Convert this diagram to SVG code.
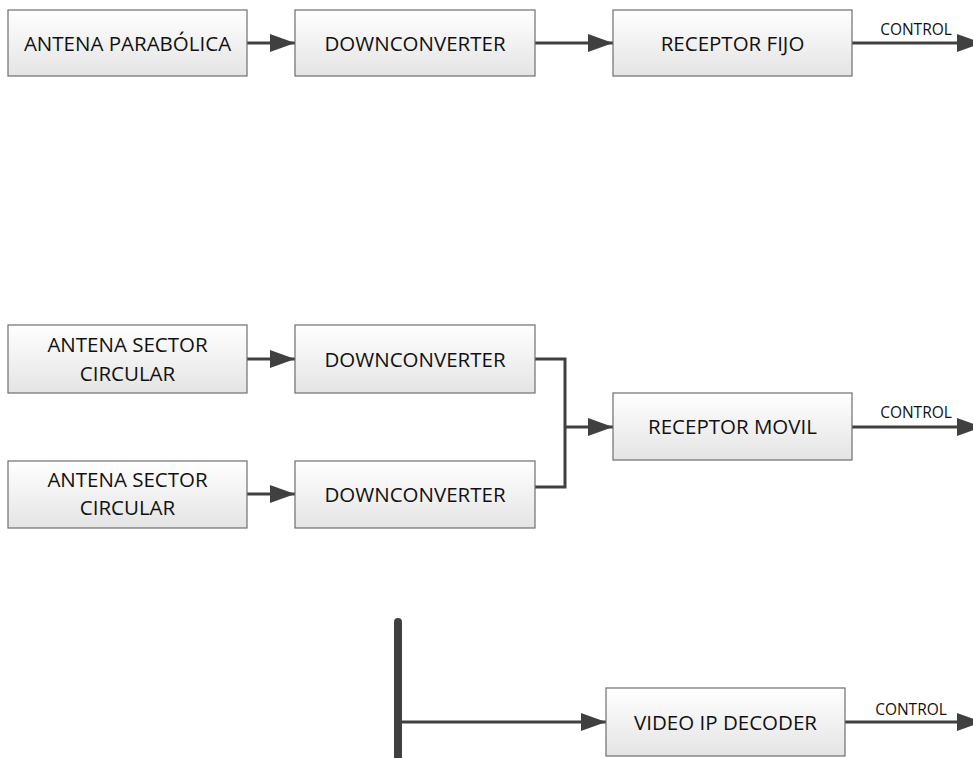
<svg xmlns="http://www.w3.org/2000/svg" width="973" height="758" viewBox="0 0 973 758">
  <style>
    .box { stroke: #6e6e6e; stroke-width: 1.2; fill: url(#boxFill); }
    .lbl { font-family: "Open Sans", "Liberation Sans", sans-serif; font-size: 20.5px; fill: #111; text-anchor: middle; }
    .ctl { font-family: "Open Sans", "Liberation Sans", sans-serif; font-size: 15.5px; fill: #111; text-anchor: middle; }
    .wire { stroke: #404040; stroke-width: 3; fill: none; }
    .arrow { marker-end: url(#head); }
  </style>
  <defs>
    <linearGradient id="boxFill" x1="0" y1="0" x2="0" y2="1">
      <stop offset="0" stop-color="#ffffff"/>
      <stop offset="1" stop-color="#e4e4e4"/>
    </linearGradient>
    <marker id="head" markerUnits="userSpaceOnUse" markerWidth="25" markerHeight="18" refX="25" refY="9" orient="auto" overflow="visible">
      <path d="M0,0 L25,9 L0,18 Z" fill="#404040"/>
    </marker>
  </defs>

  <rect width="973" height="758" fill="#ffffff"/>

  <!-- connectors -->
  <g id="connectors">
    <!-- fixed receiver chain -->
    <line class="wire arrow" x1="247" y1="43" x2="295" y2="43"/>
    <line class="wire arrow" x1="535" y1="43" x2="613" y2="43"/>
    <line class="wire arrow" x1="852" y1="43" x2="982" y2="43"/>
    <text class="ctl" x="916" y="35">CONTROL</text>

    <!-- mobile receiver chain -->
    <line class="wire arrow" x1="247" y1="359" x2="295" y2="359"/>
    <line class="wire arrow" x1="247" y1="494" x2="295" y2="494"/>
    <path class="wire" d="M535,359 H565 V487 H535"/>
    <line class="wire arrow" x1="565" y1="427" x2="613" y2="427"/>
    <line class="wire arrow" x1="852" y1="427" x2="982" y2="427"/>
    <text class="ctl" x="916" y="418">CONTROL</text>

    <!-- IP network bus -->
    <line x1="398" y1="622" x2="398" y2="770" stroke="#404040" stroke-width="8" stroke-linecap="round"/>
    <line class="wire arrow" x1="398" y1="722" x2="606" y2="722"/>
    <line class="wire arrow" x1="845" y1="722" x2="982" y2="722"/>
    <text class="ctl" x="911" y="715">CONTROL</text>
  </g>

  <g id="antena-parabolica">
    <rect class="box" x="8" y="10" width="239" height="66"/>
    <text class="lbl" x="127.5" y="50.5">ANTENA PARABÓLICA</text>
  </g>
  <g id="downconverter-fijo">
    <rect class="box" x="295" y="10" width="240" height="66"/>
    <text class="lbl" x="415" y="50.5">DOWNCONVERTER</text>
  </g>
  <g id="receptor-fijo">
    <rect class="box" x="613" y="10" width="239" height="66"/>
    <text class="lbl" x="732.5" y="50.5">RECEPTOR FIJO</text>
  </g>

  <g id="antena-sector-1">
    <rect class="box" x="8" y="325" width="239" height="68"/>
    <text class="lbl" x="127.5" y="352">ANTENA SECTOR</text>
    <text class="lbl" x="127.5" y="381">CIRCULAR</text>
  </g>
  <g id="downconverter-1">
    <rect class="box" x="295" y="325" width="240" height="68"/>
    <text class="lbl" x="415" y="366.5">DOWNCONVERTER</text>
  </g>
  <g id="antena-sector-2">
    <rect class="box" x="8" y="461" width="239" height="67"/>
    <text class="lbl" x="127.5" y="487">ANTENA SECTOR</text>
    <text class="lbl" x="127.5" y="515">CIRCULAR</text>
  </g>
  <g id="downconverter-2">
    <rect class="box" x="295" y="461" width="240" height="67"/>
    <text class="lbl" x="415" y="502">DOWNCONVERTER</text>
  </g>
  <g id="receptor-movil">
    <rect class="box" x="613" y="393" width="239" height="67"/>
    <text class="lbl" x="732.5" y="434">RECEPTOR MOVIL</text>
  </g>

  <g id="video-ip-decoder">
    <rect class="box" x="606" y="688" width="239" height="68"/>
    <text class="lbl" x="725.5" y="729.5">VIDEO IP DECODER</text>
  </g>
</svg>
